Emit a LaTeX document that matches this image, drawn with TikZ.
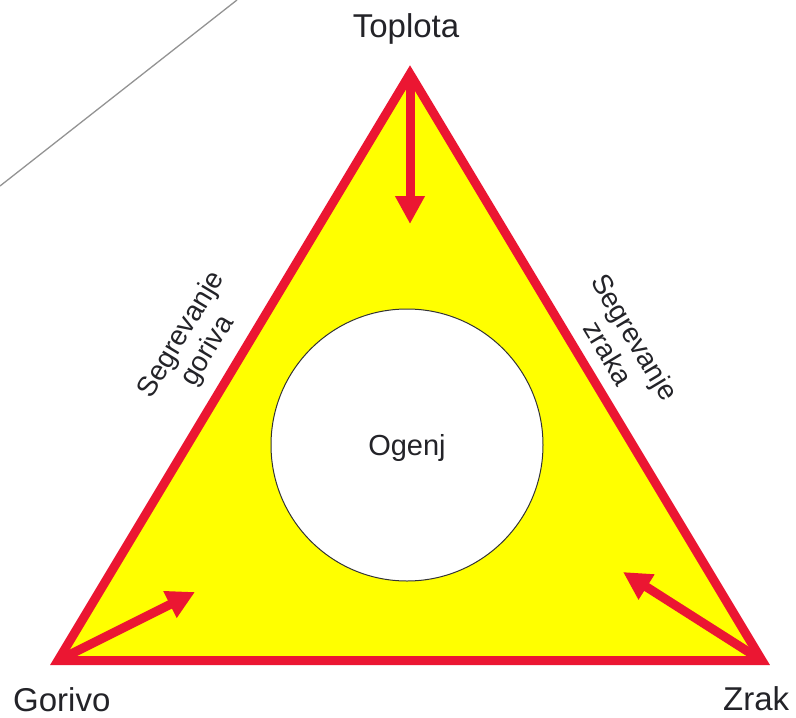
\documentclass[tikz,border=0pt]{standalone}
\usepackage{fontspec}
\setmainfont{Liberation Sans}
\usetikzlibrary{arrows.meta}
\definecolor{fred}{RGB}{235,22,50}
\definecolor{fyellow}{RGB}{255,255,0}
\definecolor{ftext}{RGB}{35,35,40}
\tikzset{
  edgeline/.style={draw=fred, line width=9pt, line join=miter},
  heatarrow/.style={draw=fred, line width=9pt, -{Triangle[width=28pt,length=28pt]}, fill=fred},
  biglabel/.style={text=ftext, font=\fontsize{33}{38}\selectfont, inner sep=0pt},
  sidelabel/.style={text=ftext, font=\fontsize{28}{31}\selectfont, align=center, inner sep=0pt},
}
\begin{document}
\begin{tikzpicture}[x=1pt,y=-1pt]
\useasboundingbox (0,0) rectangle (796,718);
% thin diagonal line
\coordinate (d1) at (0,186);
\coordinate (d2) at (237,0);
\draw[draw=gray!85, line width=1.3pt] (d1) -- (d2);
% triangle vertices
\coordinate (T) at (410,74);
\coordinate (L) at (58,660.5);
\coordinate (R) at (762,660.5);
\fill[fyellow] (T) -- (L) -- (R) -- cycle;
% fire circle
\node[circle, draw=black!80, line width=1pt, fill=white, minimum size=272pt, inner sep=0pt] (fire) at (407,445) {};
\node[text=ftext, font=\fontsize{29}{33}\selectfont, inner sep=0pt, anchor=base] (ogenj) at (407,455) {Ogenj};
% arrows
\coordinate (tT) at (410,224);
\coordinate (tL) at (195,592);
\coordinate (tR) at (623,572);
\draw[heatarrow] (T) -- (tT);
\draw[heatarrow] (L) -- (tL);
\draw[heatarrow] (R) -- (tR);
% triangle outline
\draw[edgeline] (T) -- (L) -- (R) -- cycle;
% labels
\node[biglabel, anchor=base] (toplota) at (406,37) {Toplota};
\node[biglabel, anchor=base west] (gorivo) at (13,711) {Gorivo};
\node[biglabel, anchor=base west] (zrak) at (723,710) {Zrak};
\node[sidelabel, rotate=59] (sg) at (195,343) {Segrevanje\\goriva};
\node[sidelabel, rotate=-59] (sz) at (622,345) {Segrevanje\\zraka};
\end{tikzpicture}
\end{document}
